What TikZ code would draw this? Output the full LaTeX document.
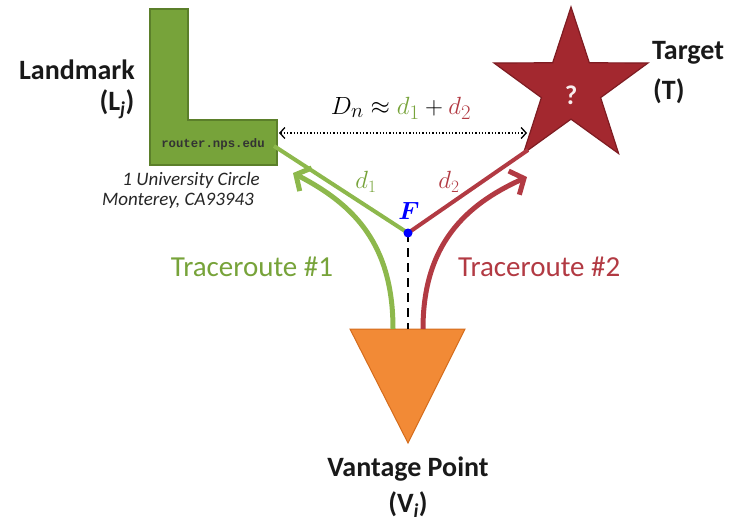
\documentclass[tikz,border=0pt]{standalone}
\usepackage{amsmath}
\usepackage{bm}
\usepackage[no-math]{fontspec}
\setmainfont{Carlito}
\setmonofont{Liberation Mono}
\usetikzlibrary{arrows.meta,shapes.geometric}
\definecolor{lmgreen}{HTML}{77A33A}
\definecolor{lmgreenD}{HTML}{5B7F2A}
\definecolor{lngreen}{HTML}{8DB84C}
\definecolor{tgred}{HTML}{A3282F}
\definecolor{tgredD}{HTML}{7E1C22}
\definecolor{lnred}{HTML}{B23A43}
\definecolor{vporange}{HTML}{F28A36}
\definecolor{vporangeD}{HTML}{D46C1C}
\tikzset{
  lbl/.style={font=\fontsize{28}{30}\selectfont\bfseries, text=black!90, inner sep=0pt},
  addr/.style={font=\fontsize{19}{21}\selectfont\itshape, text=black!85, inner sep=0pt, anchor=east},
  grnline/.style={draw=lngreen, line width=4pt},
  redline/.style={draw=lnred, line width=4pt},
  trace/.style={line width=5pt, -{Straight Barb[length=11pt,width=26pt,line width=5pt]}},
}
\begin{document}
\begin{tikzpicture}[x=1pt,y=-1pt]
\useasboundingbox (0,0) rectangle (734,525);
% Landmark L shape
\draw[fill=lmgreen, draw=lmgreenD, line width=1.5pt]
  (150,9) -- (188,9) -- (188,120) -- (277,120) -- (277,165) -- (150,165) -- cycle;
\node[font=\fontsize{12.3}{14}\selectfont\ttfamily\bfseries, text=black!80, inner sep=0pt] (url) at (213,144) {router.nps.edu};
\coordinate (Lc) at (274,146);
\node[lbl] (lmk) at (77,70) {Landmark};
\node[lbl] (lj) at (117,104) {(L$_{\text{\itshape j}}$)};
\node[addr] (a1) at (260,180) {1 University Circle};
\node[addr] (a2) at (254,201) {Monterey, CA93943};
% Target star
\node[star, star points=5, star point ratio=2.6, minimum size=162pt, inner sep=0pt,
  fill=tgred, draw=tgredD, line width=1.2pt] (T) at (571,88) {};
\node[font=\fontsize{27}{29}\selectfont\bfseries, text=white!92!tgred, inner sep=0pt] (q) at (571,95) {?};
\node[lbl, anchor=west] (tg) at (652,53) {Target};
\node[lbl, anchor=west] (tt) at (653,91) {(T)};
\coordinate (Tb) at (528,150);
% Vantage point triangle
\draw[fill=vporange, draw=vporangeD, line width=1pt] (350,329) -- (465,329) -- (408,443) -- cycle;
\coordinate (V) at (408,329);
\coordinate (Vg) at (393,329);
\coordinate (Vr) at (423,329);
\node[lbl] (vp) at (408,469) {Vantage Point};
\node[lbl] (vi) at (408,505) {(V$_{\text{\itshape i}}$)};
% point F
\coordinate (F) at (408,233);
\draw[grnline] (Lc) -- (F);
\draw[redline] (F) -- (Tb);
\draw[black, line width=2.5pt, dash pattern=on 9pt off 6pt] (F) -- (V);
\fill[blue] (F) circle (4.5pt);
\node[text=blue, font=\fontsize{24}{26}\selectfont, inner sep=0pt] (Fl) at (409,211) {$\bm{F}$};
% distance labels
\node[text=lmgreen, inner sep=0pt, font=\fontsize{27}{30}\selectfont] (d1) at (366,182) {$d_1$};
\node[text=lnred, inner sep=0pt, font=\fontsize{27}{30}\selectfont] (d2) at (449,182) {$d_2$};
% dotted double arrow
\coordinate (DA) at (279,133);
\coordinate (DB) at (527,133);
\draw[black, line width=1.3pt, dotted, {Straight Barb[length=5pt,width=11pt,line width=1.3pt]}-{Straight Barb[length=5pt,width=11pt,line width=1.3pt]}] (DA) -- (DB);
\node[inner sep=0pt, font=\fontsize{28}{30}\selectfont] (Dn) at (401,108) {$D_n \approx \textcolor{lmgreen}{d_1} + \textcolor{lnred}{d_2}$};
% traceroutes
\coordinate (Gt) at (293,173);
\coordinate (Rt) at (527,177);
\draw[trace, draw=lngreen] (Vg) .. controls (393,245) and (355,205) .. (Gt);
\draw[trace, draw=lnred] (Vr) .. controls (423,245) and (465,205) .. (Rt);
\node[text=lmgreen, inner sep=0pt, font=\fontsize{29}{32}\selectfont] (tr1) at (252,267) {Traceroute \#1};
\node[text=lnred, inner sep=0pt, font=\fontsize{29}{32}\selectfont, anchor=west] (tr2) at (458,267) {Traceroute \#2};
\end{tikzpicture}
\end{document}
